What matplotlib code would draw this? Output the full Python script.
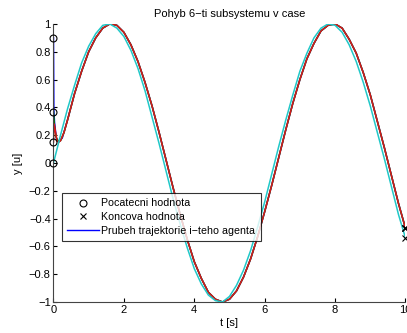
import matplotlib
matplotlib.use("Agg")
import matplotlib.pyplot as plt
from matplotlib.lines import Line2D

plt.rcParams['font.family'] = ['Liberation Sans', 'DejaVu Sans']

# Common time grid (s)
t_grid = [0.0, 0.2, 0.4, 0.6, 0.8, 1.0, 1.2, 1.4, 1.6, 1.8, 2.0, 2.2, 2.4, 2.6,
          2.8, 3.0, 3.2, 3.4, 3.6, 3.8, 4.0, 4.2, 4.4, 4.6, 4.8, 5.0, 5.2, 5.4,
          5.6, 5.8, 6.0, 6.2, 6.4, 6.6, 6.8, 7.0, 7.2, 7.4, 7.6, 7.8, 8.0, 8.2,
          8.4, 8.6, 8.8, 9.0, 9.2, 9.4, 9.6, 9.8, 10.0]

# Leading agent (cyan)
y_cyan = [0.00, 0.20, 0.39, 0.56, 0.72, 0.84, 0.93, 0.99, 1.00, 0.97, 0.91,
          0.81, 0.68, 0.52, 0.33, 0.14, -0.06, -0.26, -0.44, -0.61, -0.76,
          -0.87, -0.95, -0.99, -1.00, -0.96, -0.88, -0.77, -0.63, -0.46, -0.28,
          -0.08, 0.12, 0.31, 0.49, 0.66, 0.79, 0.90, 0.97, 1.00, 0.99, 0.94,
          0.85, 0.73, 0.58, 0.41, 0.22, 0.03, -0.17, -0.37, -0.54]

# Shared tail of the lagging agents (from t = 0.6 s on)
t_tail = t_grid[3:]
y_tail = [0.50, 0.66, 0.80, 0.90, 0.97, 1.00, 0.99, 0.94, 0.85, 0.73, 0.58,
          0.41, 0.22, 0.02, -0.18, -0.37, -0.55, -0.71, -0.83, -0.93, -0.98,
          -1.00, -0.98, -0.92, -0.82, -0.69, -0.53, -0.35, -0.16, 0.04, 0.24,
          0.43, 0.60, 0.75, 0.86, 0.95, 0.99, 1.00, 0.97, 0.89, 0.79, 0.65,
          0.49, 0.30, 0.11, -0.09, -0.29, -0.47]

# Initial transients
t_blue_head = [0.0, 0.01, 0.03, 0.08, 0.15, 0.25, 0.4]
y_blue_head = [0.90, 0.38, 0.29, 0.18, 0.15, 0.18, 0.31]
t_green_head = [0.0, 0.03, 0.07, 0.12, 0.2, 0.3, 0.4]
y_green_head = [0.37, 0.26, 0.19, 0.16, 0.16, 0.22, 0.31]
t_red_head = [0.0, 0.02, 0.06, 0.1, 0.15, 0.2, 0.3, 0.4]
y_red_head = [0.15, 0.28, 0.22, 0.16, 0.15, 0.16, 0.22, 0.31]

series = [
    ("#0000ff", t_blue_head + t_tail, y_blue_head + y_tail),
    ("#008000", t_green_head + t_tail, y_green_head + y_tail),
    ("#d81818", t_red_head + t_tail, y_red_head + y_tail),
    ("#20c8c8", t_grid, y_cyan),
]

title = "Pohyb 6\u2212ti subsystemu v case"
legend_labels = ["Pocatecni hodnota", "Koncova hodnota",
                 "Prubeh trajektorie i\u2212teho agenta"]
x_ticks = [0, 2, 4, 6, 8, 10]
y_ticks = [-1, -0.8, -0.6, -0.4, -0.2, 0, 0.2, 0.4, 0.6, 0.8, 1]

FS = 8

fig = plt.figure(figsize=(4.07, 3.33), dpi=100)
ax = fig.add_axes([0.1314, 0.0931, 0.8649, 0.835])

for color, tt, yy in series:
    ax.plot(tt, yy, color=color, lw=1.1, zorder=2)

for color, tt, yy in series:
    ax.plot(tt[0], yy[0], 'o', mfc='none', mec='black', ms=5, mew=0.8,
            clip_on=False, zorder=3)
    ax.plot(tt[-1], yy[-1], 'x', color='black', ms=4, mew=0.8,
            clip_on=False, zorder=3)

ax.set_xlim(0, 10)
ax.set_ylim(-1, 1)
ax.set_xticks(x_ticks)
ax.set_xticklabels([str(v) for v in x_ticks])
ax.set_yticks(y_ticks)
ax.set_yticklabels([("\u2212" if v < 0 else "") + f"{abs(v):g}" for v in y_ticks])
ax.tick_params(direction='in', length=3, width=0.8, labelsize=FS,
               colors='black', pad=2)

for side in ('top', 'right'):
    ax.spines[side].set_visible(False)
for side in ('left', 'bottom'):
    ax.spines[side].set_linewidth(0.8)
    ax.spines[side].set_color('#444444')

ax.set_title(title, fontsize=FS, pad=5)
ax.set_xlabel("t [s]", fontsize=FS, labelpad=2)
ax.set_ylabel("y [u]", fontsize=FS, labelpad=4.5)

handles = [
    Line2D([], [], ls='none', marker='o', mfc='none', mec='black', ms=5, mew=0.8),
    Line2D([], [], ls='none', marker='x', color='black', ms=4, mew=0.8),
    Line2D([], [], color='#0000ff', lw=1.0),
]
leg = ax.legend(handles, legend_labels, loc='upper left',
                bbox_to_anchor=(0.024, 0.392), fontsize=7.7, frameon=True,
                fancybox=False, borderpad=0.5, labelspacing=0.35,
                handlelength=3.0, handletextpad=0.2, borderaxespad=0)
leg.get_frame().set_edgecolor('black')
leg.get_frame().set_linewidth(0.8)

fig.savefig("out.png", dpi=100)
